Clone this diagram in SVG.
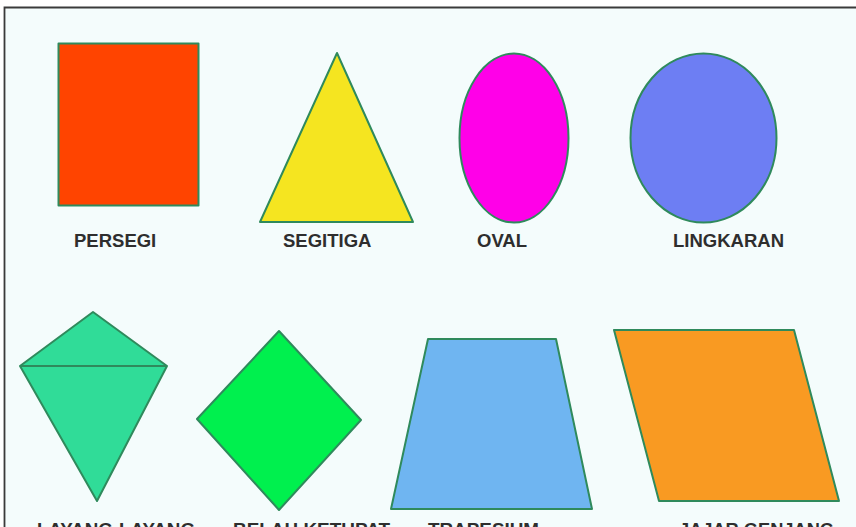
<svg xmlns="http://www.w3.org/2000/svg" width="856" height="527" viewBox="0 0 856 527">
<style>
.s{stroke:#2f8a5c;stroke-width:2;stroke-linejoin:round}
.t{font-family:"Liberation Sans",Arial,sans-serif;font-weight:bold;font-size:18.5px;fill:#2e2e2e}
</style>
<rect x="0" y="0" width="856" height="527" fill="#ffffff"/>
<rect x="5" y="8" width="860" height="530" fill="#f4fcfc"/>
<path d="M4.5,527 V7.5 H856" fill="none" stroke="#3a3a3a" stroke-width="1.8"/>
<g id="persegi">
<rect class="s" x="58.5" y="43.5" width="140" height="162" fill="#ff4400"/>
<text class="t" x="74" y="247">PERSEGI</text>
</g>
<g id="segitiga">
<polygon class="s" points="337,53 413,222 260,222" fill="#f5e520"/>
<text class="t" x="283" y="247">SEGITIGA</text>
</g>
<g id="oval">
<ellipse class="s" cx="514" cy="138" rx="54.5" ry="84.5" fill="#ff00e8"/>
<text class="t" x="477" y="247">OVAL</text>
</g>
<g id="lingkaran">
<ellipse class="s" cx="703.5" cy="138" rx="73" ry="84.5" fill="#6d7ef3"/>
<text class="t" x="673" y="247">LINGKARAN</text>
</g>
<g id="layang-layang">
<polygon class="s" points="93,312 167,366 97,501 20,366" fill="#30dc98"/>
<line class="s" x1="20" y1="366" x2="167" y2="366"/>
<text class="t" x="37" y="536" textLength="158" lengthAdjust="spacingAndGlyphs">LAYANG-LAYANG</text>
</g>
<g id="belah-ketupat">
<polygon class="s" points="279,331 361,420 279,510 197,419" fill="#00f04e"/>
<text class="t" x="233" y="536" textLength="157" lengthAdjust="spacingAndGlyphs">BELAH KETUPAT</text>
</g>
<g id="trapesium">
<polygon class="s" points="428,339 556,339 592,509 391,509" fill="#6fb5f1"/>
<text class="t" x="428" y="536" textLength="111" lengthAdjust="spacingAndGlyphs">TRAPESIUM</text>
</g>
<g id="jajar-genjang">
<polygon class="s" points="614,330 794,330 839,501 659,501" fill="#f99a22"/>
<text class="t" x="679" y="536" textLength="155" lengthAdjust="spacingAndGlyphs">JAJAR GENJANG</text>
</g>
<g id="connectors"></g>
</svg>
